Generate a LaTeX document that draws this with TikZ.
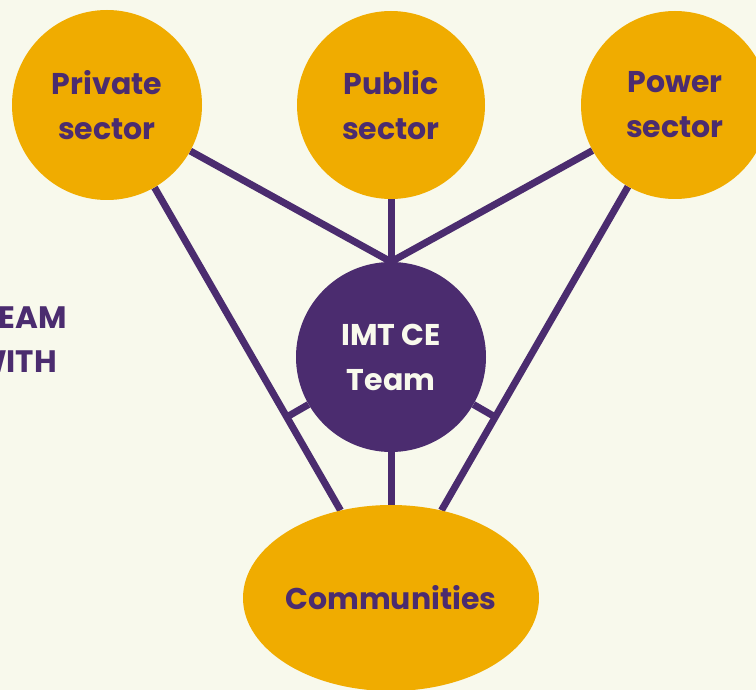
\documentclass[tikz,border=0pt]{standalone}
\usepackage{fontspec}
\setmainfont{Poppins}
\usepackage{xcolor}
\definecolor{IMTGold}{HTML}{F0AC00}
\definecolor{IMTPurple}{HTML}{4B2C6F}
\definecolor{IMTCream}{HTML}{F8F9EC}
\usepackage{tikz}
\usetikzlibrary{calc,backgrounds,shapes.geometric}
\pgfdeclarelayer{fond}
\pgfsetlayers{fond,background,main}

\begin{document}
\begin{tikzpicture}[x=1pt, y=-1pt,
    every node/.style={font=\fontsize{30}{45}\selectfont\bfseries, align=center, text=IMTPurple},
    sector/.style={circle, fill=IMTGold, minimum size=190pt, inner sep=0pt},
    link/.style={draw=IMTPurple, line width=7pt}]
        \useasboundingbox (0,0) rectangle (756,690);
        \clip (0,0) rectangle (756,690);
        \begin{pgfonlayer}{fond}
            \fill[IMTCream] (0,0) rectangle (756,690);
        \end{pgfonlayer}

        % Les trois secteurs en haut
        \node[sector] (private) at (107,105) {Private\\sector};
        \node[sector, minimum size=188pt] (public) at (391,105) {Public\\sector};
        \node[sector, minimum size=188pt] (power) at (675,105) {Power\\sector};

        % Equipe au centre et communautes en bas
        \node[circle, fill=IMTPurple, text=IMTCream, minimum size=190pt, inner sep=0pt] (imt) at (391,357) {IMT CE\\Team};
        \node[ellipse, fill=IMTGold, minimum width=296pt, minimum height=186pt, inner sep=0pt,
              label={center:Communities}] (comm) at (391,598) {};

        % Texte coupe a gauche
        \node[anchor=base east, inner sep=0pt, font=\fontsize{31}{31}\selectfont\bfseries] (teamword) at (67,328) {TEAM};
        \node[anchor=base east, inner sep=0pt, font=\fontsize{31}{31}\selectfont\bfseries] (withword) at (57,372) {WITH};

        % Liaisons derriere les noeuds
        \begin{pgfonlayer}{background}
            \draw[link] (private) -- (imt.north);
            \draw[link] (public) -- (imt.north);
            \draw[link] (power) -- (imt.north);
            \draw[link] (private) -- (comm);
            \draw[link] (power) -- (comm);
            \draw[link] (imt) -- (comm);
            \draw[link] (imt) -- ($(private)!(imt)!(comm)$);
            \draw[link] (imt) -- ($(power)!(imt)!(comm)$);
        \end{pgfonlayer}
    \end{tikzpicture}
\end{document}
